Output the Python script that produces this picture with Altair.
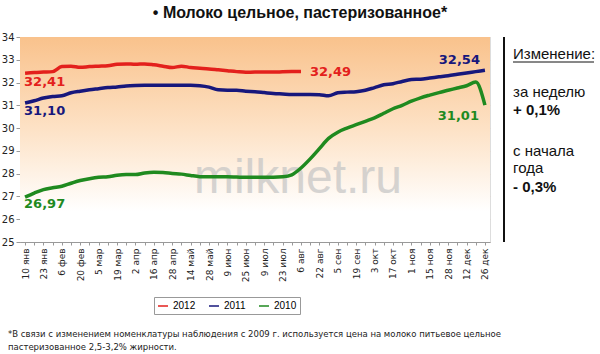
import json
import altair as alt
import pandas as pd

# ---------------- data ----------------
week_labels = ["10 янв", "23 янв", "6 фев", "20 фев", "5 мар", "19 мар", "2 апр",
               "16 апр", "28 апр", "14 май", "28 май", "9 июн", "25 июн", "9 июл",
               "23 июл", "6 авг", "22 авг", "5 сен", "19 сен", "3 окт", "17 окт",
               "1 ноя", "15 ноя", "28 ноя", "12 дек", "26 дек"]

years = ["2012", "2011", "2010"]
colors = ["#E3201C", "#17177C", "#1F8A1F"]

v2012 = [32.41, 32.44, 32.46, 32.48, 32.70, 32.72, 32.67, 32.70, 32.72, 32.74,
         32.80, 32.82, 32.80, 32.82, 32.78, 32.72, 32.66, 32.72, 32.66, 32.63,
         32.60, 32.56, 32.52, 32.48, 32.45, 32.46, 32.46, 32.46, 32.47, 32.48,
         32.49]

v2011 = [31.10, 31.20, 31.32, 31.39, 31.42, 31.55, 31.62, 31.68, 31.73, 31.78,
         31.81, 31.85, 31.87, 31.88, 31.88, 31.88, 31.88, 31.88, 31.88, 31.86,
         31.80, 31.68, 31.66, 31.66, 31.62, 31.60, 31.56, 31.52, 31.50, 31.48,
         31.48, 31.48, 31.47, 31.42, 31.55, 31.58, 31.60, 31.66, 31.78, 31.90,
         31.95, 32.05, 32.13, 32.15, 32.20, 32.25, 32.30, 32.36, 32.42, 32.48,
         32.54]

v2010 = [26.97, 27.15, 27.30, 27.38, 27.45, 27.58, 27.70, 27.78, 27.84, 27.86,
         27.93, 27.96, 27.96, 28.03, 28.06, 28.05, 28.01, 27.98, 27.92, 27.87,
         27.86, 27.86, 27.86, 27.85, 27.84, 27.84, 27.84, 27.84, 27.86, 27.95,
         28.25, 28.65, 29.10, 29.55, 29.82, 30.00, 30.15, 30.30, 30.45, 30.65,
         30.85, 31.00, 31.18, 31.33, 31.45, 31.56, 31.66, 31.76, 31.86, 32.02,
         31.01]

title_text = "• Молоко цельное, пастеризованное*"
watermark = "milknet.ru"
panel_head = "Изменение:"
panel_lines = ["за неделю", "+ 0,1%", "с начала", "года", "- 0,3%"]
footnote = ["*В связи с изменением номенклатуры наблюдения с 2009 г. используется цена на молоко питьевое цельное",
            "пастеризованное 2,5-3,2% жирности."]

rows = []
for yr, vals in zip(years, [v2012, v2011, v2010]):
    for i, v in enumerate(vals):
        rows.append({"week": i, "value": v, "year": yr})
df = pd.DataFrame(rows)

W, H = 470, 205
FONT = "DejaVu Sans"
SANS = "Liberation Sans"

xscale = alt.Scale(domain=[-0.55, 50.55], nice=False, zero=False)
yscale = alt.Scale(domain=[25, 34], nice=False, zero=False)

labels_js = json.dumps(week_labels, ensure_ascii=False)
x_axis = alt.Axis(values=list(range(51)), title=None, grid=False,
                  labelExpr=f"datum.value % 2 == 0 ? {labels_js}[datum.value / 2] : ''",
                  labelAngle=-90, labelOverlap=False, labelFlush=False,
                  labelFont=FONT, labelFontSize=9, labelColor="#222",
                  tickSize=3, tickColor="#999", domainColor="#999", labelPadding=3)
y_axis = alt.Axis(values=list(range(25, 35)), title=None, grid=True,
                  labelOverlap=False, labelFlush=False,
                  gridDash=[8, 5], gridColor="#dcd3ca", tickSize=4,
                  tickColor="#999", domainColor="#999",
                  labelFont=FONT, labelFontSize=10, labelColor="#222", labelPadding=2)

X = alt.X("week:Q", scale=xscale, axis=x_axis)
Y = alt.Y("value:Q", scale=yscale, axis=y_axis)

one = pd.DataFrame({"k": [0]})

bg = alt.Chart(one).mark_rect(
    fill=alt.Gradient(gradient="linear", x1=0, y1=0, x2=0, y2=1,
                      stops=[alt.GradientStop(offset=0, color="#F9C28C"),
                             alt.GradientStop(offset=0.45, color="#FDE2C6"),
                             alt.GradientStop(offset=0.85, color="#FFFFFF"),
                             alt.GradientStop(offset=1, color="#FFFFFF")])
).encode(x=alt.value(0), x2=alt.value(W), y=alt.value(0), y2=alt.value(H))

wm = alt.Chart(one).mark_text(text=watermark, font=SANS, fontSize=48,
                              color="#c4c4c4", opacity=0.7, align="center",
                              baseline="alphabetic").encode(
    x=alt.value(278), y=alt.value(156))

lines = alt.Chart(df).mark_line(strokeWidth=3.5, interpolate="monotone").encode(
    x=X, y=Y,
    color=alt.Color("year:N", scale=alt.Scale(domain=years, range=colors),
                    sort=years,
                    legend=alt.Legend(title=None, orient="none", legendX=134,
                                      legendY=260, direction="horizontal",
                                      strokeColor="#999", fillColor="white",
                                      padding=3)),
    detail="year:N")


def end_label(year, week, color, align, dx, dy):
    return alt.Chart(df).transform_filter(
        (alt.datum.year == year) & (alt.datum.week == week)
    ).transform_calculate(
        lab="replace(format(datum.value, '.2f'), '.', ',')"
    ).mark_text(font=FONT, fontWeight="bold", fontSize=13, color=color,
                align=align, baseline="middle", dx=dx, dy=dy).encode(
        x=X, y=Y, text="lab:N")


labs = [
    end_label("2012", 0, colors[0], "left", -1, 9),
    end_label("2011", 0, colors[1], "left", -1, 8),
    end_label("2010", 0, colors[2], "left", -1, 7),
    end_label("2012", 30, colors[0], "left", 9, 1),
    end_label("2011", 50, colors[1], "right", -5, -10),
    end_label("2010", 50, colors[2], "right", -6, 11),
]

title = alt.Chart(one).mark_text(text=title_text, font=SANS, fontWeight="bold",
                                 fontSize=16, color="#111", align="center",
                                 baseline="middle").encode(
    x=alt.value(280), y=alt.value(-24))

vline = alt.Chart(one).mark_rule(color="#111", strokeWidth=2).encode(
    x=alt.value(484), y=alt.value(0), y2=alt.value(H))

panel = [alt.Chart(one).mark_text(text=panel_head, font=SANS, fontSize=15,
                                  color="#111", align="left", baseline="middle").encode(
    x=alt.value(493), y=alt.value(17))]
underline = alt.Chart(one).mark_rule(color="#111", strokeWidth=1).encode(
    x=alt.value(493), x2=alt.value(574), y=alt.value(25))
panel_y = [55, 73, 114, 131, 150]
for t, yy in zip(panel_lines, panel_y):
    bold = t.startswith("+") or t.startswith("-")
    panel.append(alt.Chart(one).mark_text(
        text=t, font=SANS, fontSize=15, fontWeight="bold" if bold else "normal",
        color="#111", align="left", baseline="middle").encode(
        x=alt.value(493), y=alt.value(yy)))

foot = []
for t, yy in zip(footnote, [297, 310]):
    foot.append(alt.Chart(one).mark_text(
        text=t, font=FONT, fontSize=8.5, color="#222", align="left",
        baseline="middle").encode(x=alt.value(-12), y=alt.value(yy)))

chart = alt.layer(bg, wm, lines, *labs, title, vline, *panel,
                  underline, *foot).properties(
    width=W, height=H,
    autosize=alt.AutoSizeParams(type="none"),
    padding={"left": 20, "top": 37, "right": 110, "bottom": 112},
).configure_view(stroke=None).configure_legend(
    labelFont=SANS, labelFontSize=12, labelColor="#111", labelOffset=1,
    symbolType="stroke", symbolStrokeWidth=3.5, symbolSize=324,
    columnPadding=1,
).configure(background="white")

chart.save("out.html", embed_options={"renderer": "svg", "actions": False})
